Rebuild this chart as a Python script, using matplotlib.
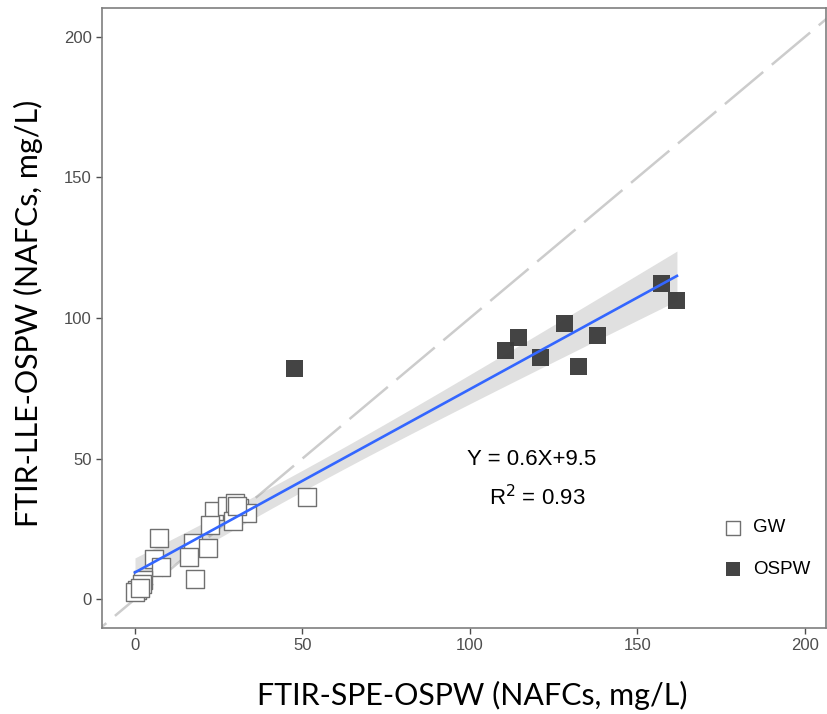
import numpy as np
import matplotlib
matplotlib.use("Agg")
import matplotlib.pyplot as plt

# ---- data ----
gw_x = [51.3, 23.6, 27.5, 29.9, 31.0, 33.4, 29.3, 22.4, 7.2, 17.3, 21.8, 16.1, 5.7, 7.8, 17.9, 2.4, 2.1, 0.6, 0.0, 1.5, 30.5]
gw_y = [36.3, 31.3, 33.1, 34.2, 32.5, 30.6, 27.8, 26.3, 21.7, 19.9, 18.1, 14.9, 14.2, 11.4, 7.1, 6.8, 5.3, 3.2, 2.5, 4.0, 33.0]
ospw_x = [47.5, 110.7, 114.6, 121.2, 128.1, 132.5, 138.2, 157.3, 161.8]
ospw_y = [81.9, 88.6, 92.9, 86.1, 97.9, 82.9, 93.6, 112.1, 106.4]
ticks = [0, 50, 100, 150, 200]
legend_labels = ["GW", "OSPW"]
eq_text = "Y = 0.6X+9.5"
r2_text = r"R$^2$ = 0.93"
x_title = "FTIR-SPE-OSPW (NAFCs, mg/L)"
y_title = "FTIR-LLE-OSPW (NAFCs, mg/L)"

fig = plt.figure(figsize=(8.28, 7.14), dpi=100)
ax = fig.add_axes([102/828, 1-628/714, 724/828, 620/714])

xlim = (-9.85, 206.3)
ylim = (-10.3, 210.3)

# 1:1 line
lo, hi = -20, 230
ax.plot([lo, hi], [lo, hi], color="#cccccc", lw=1.8, dashes=(20, 4.5), zorder=1)

# regression with confidence band
X = np.array(gw_x + ospw_x)
Y = np.array(gw_y + ospw_y)
n = len(X)
b1, b0 = np.polyfit(X, Y, 1)
xs = np.linspace(X.min(), X.max(), 200)
ys = b0 + b1 * xs
resid = Y - (b0 + b1 * X)
s = np.sqrt(np.sum(resid**2) / (n - 2))
se = s * np.sqrt(1/n + (xs - X.mean())**2 / np.sum((X - X.mean())**2))
t = 2.045
ax.fill_between(xs, ys - t*se, ys + t*se, color="#999999", alpha=0.3, lw=0, zorder=2)

ax.scatter(gw_x, gw_y, marker="s", s=150, facecolors="white", edgecolors="#707070",
           linewidths=1.0, zorder=3, label=legend_labels[0])
ax.scatter(ospw_x, ospw_y, marker="s", s=150, facecolors="#3a3a3a", edgecolors="none",
           alpha=0.95, zorder=4, label=legend_labels[1])
ax.plot(xs, ys, color="#3366FF", lw=1.9, zorder=5)

ax.text(118.5, 49.8, eq_text, ha="center", va="center", fontsize=16, family="Liberation Sans")
ax.text(120, 36.0, r2_text, ha="center", va="center", fontsize=16, family="Liberation Sans")

ax.set_xlim(*xlim)
ax.set_ylim(*ylim)
ax.set_xticks(ticks)
ax.set_yticks(ticks)
ax.tick_params(colors="#4d4d4d", labelsize=12, length=4, width=1)
for lab in ax.get_xticklabels() + ax.get_yticklabels():
    lab.set_family("Liberation Sans")
    lab.set_color("#4d4d4d")
for sp in ax.spines.values():
    sp.set_color("#7f7f7f")
    sp.set_linewidth(1.2)

ax.set_xlabel(x_title, fontsize=21.9, family="Lato", labelpad=23)
ax.set_ylabel(y_title, fontsize=21.9, family="Lato")
ax.xaxis.set_label_coords(0.511, -0.085)
ax.yaxis.set_label_coords(-0.0815, 0.507)

leg = ax.legend(loc="center left", bbox_to_anchor=(0.83, 0.128), frameon=False,
                handlelength=1.4, handletextpad=0.37, labelspacing=1.3, scatterpoints=1,
                markerscale=0.85, prop={"family": "Liberation Sans", "size": 13.5})

fig.savefig("out.png", dpi=100)
